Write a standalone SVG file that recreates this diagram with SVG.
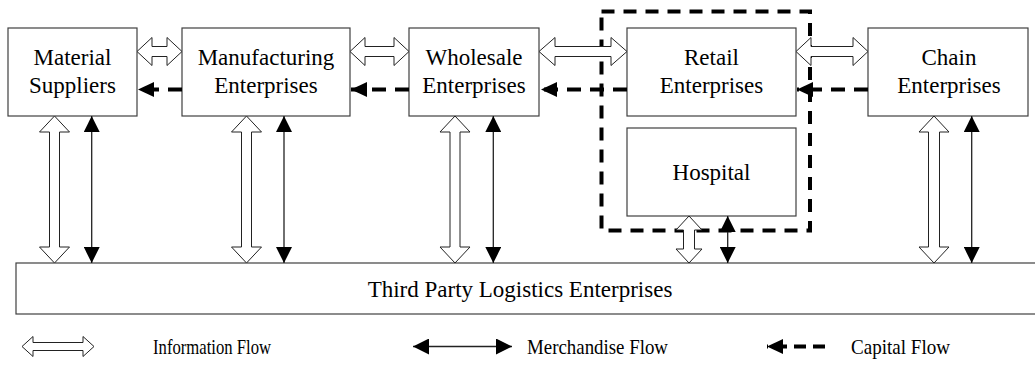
<svg xmlns="http://www.w3.org/2000/svg" width="1035" height="376" viewBox="0 0 1035 376">
<style>
  .box { fill: #ffffff; stroke: #404040; stroke-width: 1.2; }
  .lbl { font-family: "Liberation Serif", "Times New Roman", serif; font-size: 23px; fill: #000; text-anchor: middle; }
  .leg { font-family: "Liberation Serif", "Times New Roman", serif; font-size: 21px; fill: #000; }
  .info { fill: #ffffff; stroke: #222; stroke-width: 1; stroke-linejoin: miter; }
  .merch { fill: none; stroke: #222; stroke-width: 1.3; marker-start: url(#mhead); marker-end: url(#mhead); }
  .cap { fill: none; stroke: #000; stroke-width: 4; stroke-dasharray: 14 9; marker-end: url(#chead); }
  .group { fill: none; stroke: #000; stroke-width: 4; stroke-dasharray: 13 9; }
</style>
<defs>
  <marker id="mhead" markerUnits="userSpaceOnUse" markerWidth="16" markerHeight="16" viewBox="0 0 14 14" refX="14" refY="7" orient="auto-start-reverse">
    <path d="M0,0 L14,7 L0,14 Z" fill="#000"/>
  </marker>
  <marker id="chead" markerUnits="userSpaceOnUse" markerWidth="16" markerHeight="16" viewBox="0 0 15 14" refX="15" refY="7" orient="auto">
    <path d="M0,0 L15,7 L0,14 Z" fill="#000"/>
  </marker>
</defs>

<g id="node-material">
  <rect class="box" x="8" y="28" width="129" height="88"/>
  <text class="lbl" x="72.5" y="65">Material</text>
  <text class="lbl" x="72.5" y="93">Suppliers</text>
</g>
<g id="node-manufacturing">
  <rect class="box" x="182" y="28" width="168" height="88"/>
  <text class="lbl" x="266" y="65">Manufacturing</text>
  <text class="lbl" x="266" y="93">Enterprises</text>
</g>
<g id="node-wholesale">
  <rect class="box" x="409" y="28" width="130" height="88"/>
  <text class="lbl" x="474" y="65">Wholesale</text>
  <text class="lbl" x="474" y="93">Enterprises</text>
</g>
<g id="node-retail">
  <rect class="box" x="627" y="28" width="169" height="88"/>
  <text class="lbl" x="711.5" y="65">Retail</text>
  <text class="lbl" x="711.5" y="93">Enterprises</text>
</g>
<g id="node-chain">
  <rect class="box" x="868" y="28" width="160" height="88"/>
  <text class="lbl" x="949" y="65">Chain</text>
  <text class="lbl" x="949" y="93">Enterprises</text>
</g>
<g id="node-hospital">
  <rect class="box" x="627" y="128" width="169" height="88"/>
  <text class="lbl" x="711.5" y="180">Hospital</text>
</g>
<g id="node-logistics">
  <rect class="box" x="16" y="263" width="1030" height="51"/>
  <text class="lbl" x="520" y="297">Third Party Logistics Enterprises</text>
</g>
<g id="group-retail-hospital">
  <rect class="group" x="601.5" y="11.5" width="208.5" height="219"/>
</g>

<g id="connectors">
  <polygon class="info" points="137,51.5 152,37.5 152,46.5 167,46.5 167,37.5 182,51.5 167,65.5 167,56.5 152,56.5 152,65.5"/>
  <polygon class="info" points="350,51.5 365,37.5 365,46.5 394,46.5 394,37.5 409,51.5 394,65.5 394,56.5 365,56.5 365,65.5"/>
  <polygon class="info" points="539,51.5 555,37.5 555,46.5 611,46.5 611,37.5 627,51.5 611,65.5 611,56.5 555,56.5 555,65.5"/>
  <polygon class="info" points="796,51.5 811,37.5 811,46.5 853,46.5 853,37.5 868,51.5 853,65.5 853,56.5 811,56.5 811,65.5"/>
  <line class="cap" x1="182" y1="89.5" x2="138" y2="89.5"/>
  <line class="cap" x1="409" y1="89.5" x2="351" y2="89.5"/>
  <line class="cap" x1="627" y1="89.5" x2="541" y2="89.5"/>
  <line class="cap" x1="868" y1="89.5" x2="797" y2="89.5"/>
  <polygon class="info" points="54.5,116 69.5,132 59.5,132 59.5,247 69.5,247 54.5,263 39.5,247 49.5,247 49.5,132 39.5,132"/>
  <polygon class="info" points="246.5,116 261.5,132 251.5,132 251.5,247 261.5,247 246.5,263 231.5,247 241.5,247 241.5,132 231.5,132"/>
  <polygon class="info" points="455,116 470,132 460,132 460,247 470,247 455,263 440,247 450,247 450,132 440,132"/>
  <polygon class="info" points="689,216 702,230 694.5,230 694.5,249 702,249 689,263 676,249 683.5,249 683.5,230 676,230"/>
  <polygon class="info" points="934,116 949,132 939.5,132 939.5,247 949,247 934,263 919,247 928.5,247 928.5,132 919,132"/>
  <line class="merch" x1="91.7" y1="116" x2="91.7" y2="263"/>
  <line class="merch" x1="284" y1="116" x2="284" y2="263"/>
  <line class="merch" x1="493.3" y1="116" x2="493.3" y2="263"/>
  <line class="merch" x1="727.7" y1="216" x2="727.7" y2="263"/>
  <line class="merch" x1="971.7" y1="116" x2="971.7" y2="263"/>
</g>

<g id="legend">
  <polygon class="info" points="22,346.5 33,336.5 33,342.5 83,342.5 83,336.5 94,346.5 83,356.5 83,350.5 33,350.5 33,356.5"/>
  <text class="leg" x="153" y="354" textLength="118" lengthAdjust="spacingAndGlyphs">Information Flow</text>
  <line class="merch" x1="413" y1="346.5" x2="512" y2="346.5"/>
  <text class="leg" x="527" y="354" textLength="141" lengthAdjust="spacingAndGlyphs">Merchandise Flow</text>
  <line class="cap" x1="825" y1="346.5" x2="767" y2="346.5" style="stroke-dasharray: 12 7"/>
  <text class="leg" x="851" y="354" textLength="99" lengthAdjust="spacingAndGlyphs">Capital Flow</text>
</g>
</svg>
